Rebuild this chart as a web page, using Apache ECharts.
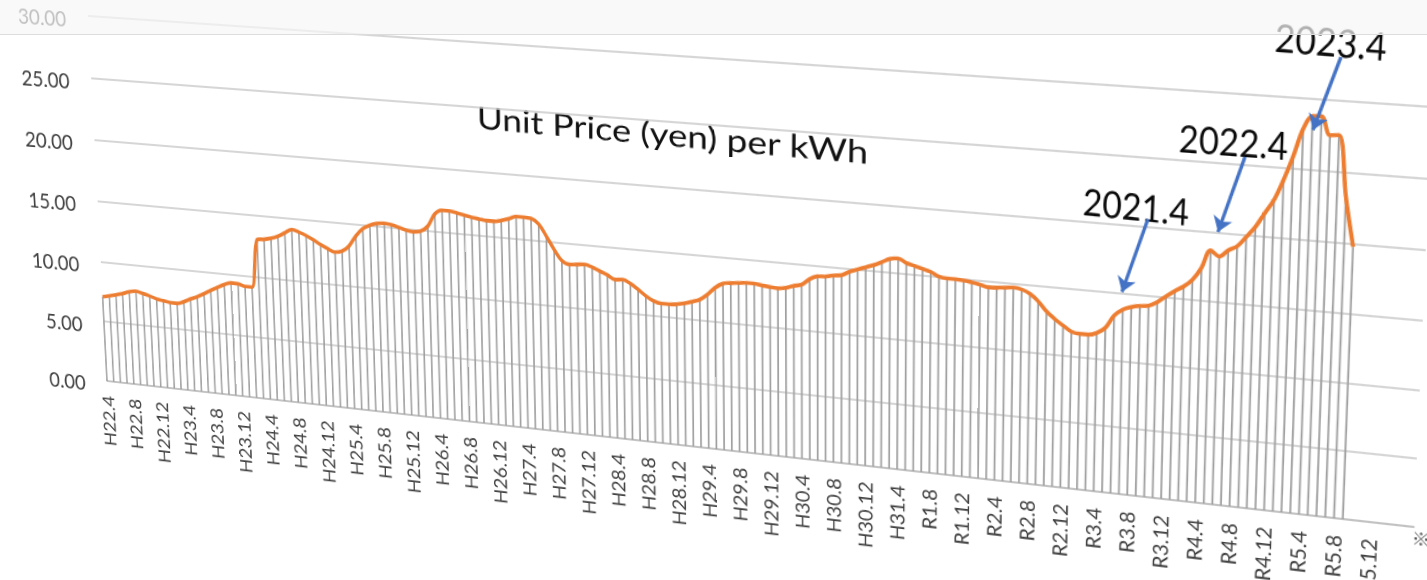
<!DOCTYPE html>
<html><head><meta charset="utf-8">
<script src="https://cdn.jsdelivr.net/npm/echarts@6/dist/echarts.min.js"></script>
<style>
html,body{margin:0;padding:0;width:1427px;height:580px;overflow:hidden;background:#fff;}
#wrap{position:absolute;left:0;top:0;width:1427px;height:580px;overflow:hidden;background:#fff;}
#chart{position:absolute;left:0;top:0;width:1427px;height:730px;transform-origin:0 0;}
#band{position:absolute;left:0;top:0;width:1427px;height:34px;background:rgba(246,246,248,0.7);border-bottom:1px solid #dcdcdc;}
</style></head><body>
<div id="wrap"><div id="chart"></div><div id="band"></div></div>
<script>
// ---------------- data ----------------
const categories = [
'H22.4','H22.5','H22.6','H22.7','H22.8','H22.9','H22.10','H22.11','H22.12',
'H23.1','H23.2','H23.3','H23.4','H23.5','H23.6','H23.7','H23.8','H23.9','H23.10','H23.11','H23.12',
'H24.1','H24.2','H24.3','H24.4','H24.5','H24.6','H24.7','H24.8','H24.9','H24.10','H24.11','H24.12',
'H25.1','H25.2','H25.3','H25.4','H25.5','H25.6','H25.7','H25.8','H25.9','H25.10','H25.11','H25.12',
'H26.1','H26.2','H26.3','H26.4','H26.5','H26.6','H26.7','H26.8','H26.9','H26.10','H26.11','H26.12',
'H27.1','H27.2','H27.3','H27.4','H27.5','H27.6','H27.7','H27.8','H27.9','H27.10','H27.11','H27.12',
'H28.1','H28.2','H28.3','H28.4','H28.5','H28.6','H28.7','H28.8','H28.9','H28.10','H28.11','H28.12',
'H29.1','H29.2','H29.3','H29.4','H29.5','H29.6','H29.7','H29.8','H29.9','H29.10','H29.11','H29.12',
'H30.1','H30.2','H30.3','H30.4','H30.5','H30.6','H30.7','H30.8','H30.9','H30.10','H30.11','H30.12',
'H31.1','H31.2','H31.3','H31.4',
'R1.5','R1.6','R1.7','R1.8','R1.9','R1.10','R1.11','R1.12',
'R2.1','R2.2','R2.3','R2.4','R2.5','R2.6','R2.7','R2.8','R2.9','R2.10','R2.11','R2.12',
'R3.1','R3.2','R3.3','R3.4','R3.5','R3.6','R3.7','R3.8','R3.9','R3.10','R3.11','R3.12',
'R4.1','R4.2','R4.3','R4.4','R4.5','R4.6','R4.7','R4.8','R4.9','R4.10','R4.11','R4.12',
'R5.1','R5.2','R5.3','R5.4','R5.5','R5.6','R5.7','R5.8','R5.9','R5.10','R5.11','R5.12',
'R6.1','R6.2','R6.3','R6.4','R6.5'
];
// Unit price (yen) per kWh, monthly, H22.4 .. R5.9
const unitPrice = [
7.07,7.19,7.33,7.5,7.7,7.81,7.68,7.53,7.34,7.25,7.15,7.14,
7.34,7.62,7.86,8.16,8.5,8.8,9.08,9.28,9.26,9.1,9.1,13.0,
13.1,13.23,13.45,13.77,14.09,13.94,13.72,13.43,13.1,12.82,12.6,12.72,
13.2,14.05,14.68,15.01,15.2,15.27,15.2,15.05,14.88,14.8,14.9,15.35,
16.35,16.7,16.7,16.6,16.48,16.36,16.28,16.2,16.2,16.32,16.5,16.72,
16.73,16.69,16.3,15.4,14.41,13.6,13.35,13.41,13.46,13.3,13.05,12.8,
12.5,12.55,12.3,11.9,11.45,11.12,10.97,10.97,11.03,11.15,11.34,11.56,
12.01,12.6,12.97,13.06,13.13,13.19,13.19,13.1,13.04,13.0,13.08,13.3,
13.44,13.92,14.19,14.24,14.37,14.44,14.76,14.99,15.21,15.43,15.71,16.0,
16.09,15.8,15.64,15.47,15.3,15.0,14.92,14.92,14.88,14.79,14.68,14.54,
14.56,14.62,14.69,14.6,14.33,13.83,13.14,12.63,12.2,11.81,11.7,11.7,
11.89,12.33,13.28,13.79,14.03,14.17,14.25,14.57,15.05,15.5,15.88,16.43,
17.36,18.67,18.29,18.78,19.13,19.86,20.63,21.65,22.66,24.14,25.87,27.84,
28.8,28.83,27.54,27.6,23.3,19.79
];
const yMin = 0, yMax = 30, yStep = 5;
const chartTitle = 'Unit Price (yen) per kWh';
const annotationTexts = ['2021.4', '2022.4', '2023.4'];
const footMark = '※';

// ---------------- layout (page pixels of the photographed view) ----------------
const OFF = 150; // extra room above the plot inside the (untransformed) chart box
const GRID = {left: 107, right: 1412, top: 16 + OFF, bottom: 381 + OFF};
const SRC = [[GRID.left, GRID.top], [GRID.right, GRID.top], [GRID.left, GRID.bottom], [GRID.right, GRID.bottom]];
const DST = [[88, 16], [1432, 107], [107, 381], [1414, 527]];
const annoLayout = [
  {pos: [1083, 201], tail: [1148, 219], tip: [1122, 292], rot: -0.022},
  {pos: [1179, 138], tail: [1245, 157], tip: [1218, 232], rot: 0.0},
  {pos: [1275, 37],  tail: [1341, 57],  tip: [1313, 130], rot: -0.022}
];
const titleLayout = {pos: [477, 117], size: 29, scaleX: 1.25, rot: -0.012};

function homography(src, dst) {
  const A = [], b = [];
  for (let i = 0; i < 4; i++) {
    const [x, y] = src[i], [u, v] = dst[i];
    A.push([x, y, 1, 0, 0, 0, -x * u, -y * u]); b.push(u);
    A.push([0, 0, 0, x, y, 1, -x * v, -y * v]); b.push(v);
  }
  const n = 8;
  for (let c = 0; c < n; c++) {
    let p = c;
    for (let r = c + 1; r < n; r++) if (Math.abs(A[r][c]) > Math.abs(A[p][c])) p = r;
    [A[c], A[p]] = [A[p], A[c]]; [b[c], b[p]] = [b[p], b[c]];
    for (let r = 0; r < n; r++) {
      if (r === c) continue;
      const f = A[r][c] / A[c][c];
      for (let k = c; k < n; k++) A[r][k] -= f * A[c][k];
      b[r] -= f * b[c];
    }
  }
  const h = b.map((v, i) => v / A[i][i]);
  return [h[0], h[1], h[2], h[3], h[4], h[5], h[6], h[7], 1];
}
function applyH(H, p) {
  const w = H[6] * p[0] + H[7] * p[1] + H[8];
  return [(H[0] * p[0] + H[1] * p[1] + H[2]) / w, (H[3] * p[0] + H[4] * p[1] + H[5]) / w];
}
const Hf = homography(SRC, DST);
const Hi = homography(DST, SRC);
const el = document.getElementById('chart');
el.style.transform = `matrix3d(${Hf[0]},${Hf[3]},0,${Hf[6]},${Hf[1]},${Hf[4]},0,${Hf[7]},0,0,1,0,${Hf[2]},${Hf[5]},0,${Hf[8]})`;

const FONT = 'Lato, "Open Sans", sans-serif';
const chart = echarts.init(el, null, {renderer: 'svg', width: 1427, height: 580 + OFF});

const graphics = [];
{
  const p = applyH(Hi, titleLayout.pos);
  graphics.push({type: 'text', x: p[0], y: p[1], rotation: titleLayout.rot, scaleX: titleLayout.scaleX, silent: true,
    style: {text: chartTitle, fontSize: titleLayout.size, fontFamily: FONT, fill: '#111', align: 'left', verticalAlign: 'middle'}});
}
annotationTexts.forEach((t, i) => {
  const p = applyH(Hi, annoLayout[i].pos);
  graphics.push({type: 'text', x: p[0], y: p[1], rotation: annoLayout[i].rot, scaleX: 0.92, silent: true,
    style: {text: t, fontSize: 33, fontFamily: FONT, fill: '#0a0a0a', align: 'left', verticalAlign: 'middle'}});
});
{
  const p = applyH(Hi, [1420, 530]);
  graphics.push({type: 'text', x: p[0], y: p[1], rotation: Math.PI / 2, silent: true,
    style: {text: footMark, fontSize: 16, fontFamily: '"Noto Sans CJK JP", sans-serif', fill: '#555', align: 'right', verticalAlign: 'middle'}});
}

const arrowLines = annoLayout.map(a => {
  const s = applyH(Hi, a.tail), e = applyH(Hi, a.tip);
  return [{x: s[0], y: s[1]}, {x: e[0], y: e[1]}];
});

chart.setOption({
  animation: false,
  backgroundColor: '#fff',
  grid: {left: GRID.left, right: 1427 - GRID.right, top: GRID.top, bottom: 580 + OFF - GRID.bottom, containLabel: false},
  xAxis: {
    type: 'category', data: categories, boundaryGap: false,
    axisLine: {lineStyle: {color: '#bdbdbd', width: 1.5}},
    axisTick: {show: false},
    axisLabel: {
      interval: (idx) => idx % 4 === 0 && idx <= 164,
      rotate: 90, fontSize: 19, fontFamily: FONT, color: '#404040', margin: 15
    },
    splitLine: {show: false}
  },
  yAxis: {
    type: 'value', min: yMin, max: yMax, interval: yStep,
    axisLabel: {
      formatter: v => '{v|' + v.toFixed(2) + '}', margin: 25,
      rich: {v: {fontSize: 21.5, fontFamily: FONT, color: '#404040', lineHeight: 22, padding: [8, 0, 0, 0]}}
    },
    axisLine: {show: false}, axisTick: {show: false},
    splitLine: {lineStyle: {color: '#c8c8c8', width: 1.6}}
  },
  series: [
    {type: 'bar', data: unitPrice, barWidth: 1.7, silent: true,
     itemStyle: {color: '#a0a0a0'}},
    {type: 'line', data: unitPrice, smooth: 0.35, symbol: 'none', silent: true,
     lineStyle: {color: '#ED7D31', width: 3.6},
     markLine: {silent: true, symbol: ['none', 'arrow'], symbolSize: 13, label: {show: false},
       lineStyle: {color: '#4472C4', width: 3, type: 'solid'}, data: arrowLines}}
  ],
  graphic: graphics
});
</script>
</body></html>
